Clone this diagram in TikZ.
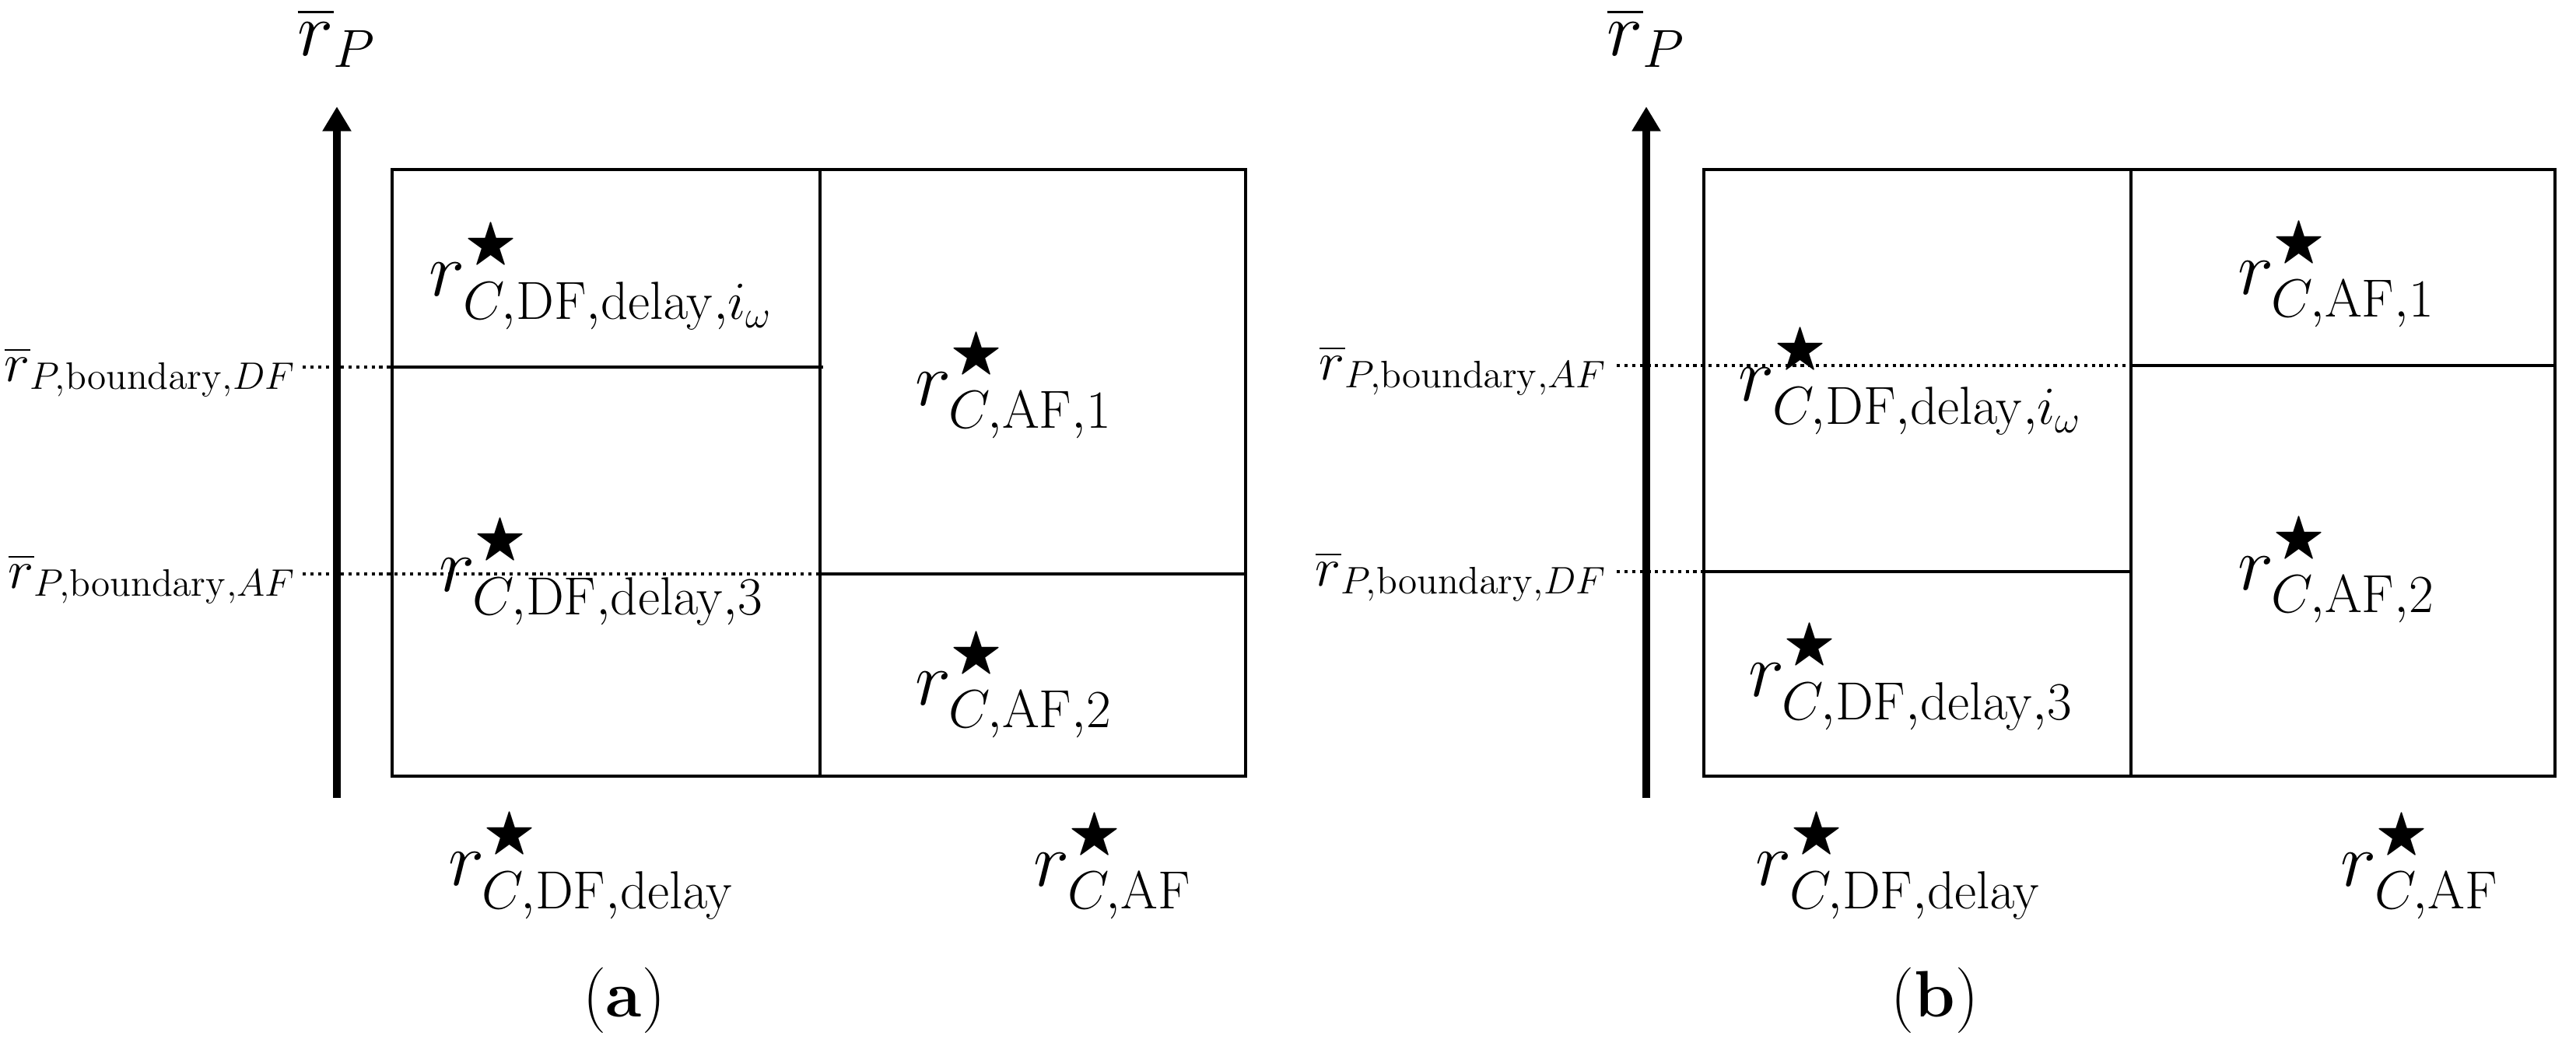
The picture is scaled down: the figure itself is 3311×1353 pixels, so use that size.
\RequirePackage{fix-cm}
\documentclass[tikz,border=0pt]{standalone}
\usepackage{amssymb}
\usetikzlibrary{arrows.meta}
\newcommand{\rs}{r^{\bigstar}}
\begin{document}
\begin{tikzpicture}[x=0.01cm,y=-0.01cm,
  boxline/.style={line width=1.4pt},
  axisline/.style={line width=3.1pt,-{Triangle[width=10pt,length=9pt]}},
  dotline/.style={line width=1.1pt,dash pattern=on 1.2pt off 1.6pt},
  big/.style={font=\fontsize{28}{34}\selectfont,inner sep=0pt},
  bnd/.style={font=\fontsize{20}{24}\selectfont,inner sep=0pt,anchor=east},
  captext/.style={font=\fontsize{24}{28}\selectfont,inner sep=0pt}]
\useasboundingbox (0,0) rectangle (3311,1353);
% ---------- (a) ----------
\coordinate (a0) at (433,1026);
\coordinate (a1) at (433,137);
\draw[axisline] (a0) -- (a1);
\node[big] (arp) at (433,48) {$\overline{r}_{P}$};
\draw[boxline] (504,218) rectangle (1601,998);
\draw[boxline] (1054,218) -- (1054,998);
\draw[boxline] (504,472) -- (1058,472);
\draw[boxline] (1054,738) -- (1601,738);
\coordinate (adf) at (389,472);
\coordinate (aaf) at (389,738);
\draw[dotline] (adf) -- (504,472);
\draw[dotline] (aaf) -- (1054,738);
\node[bnd] (lDFa) at (381,478) {$\overline{r}_{P,\mathrm{boundary},DF}$};
\node[bnd] (lAFa) at (381,744) {$\overline{r}_{P,\mathrm{boundary},AF}$};
\node[big] (a_iw) at (773,355) {$\rs_{C,\mathrm{DF},\mathrm{delay},i_\omega}$};
\node[big] (a_d3) at (773,735) {$\rs_{C,\mathrm{DF},\mathrm{delay},3}$};
\node[big] (a_af1) at (1303,495) {$\rs_{C,\mathrm{AF},1}$};
\node[big] (a_af2) at (1303,880) {$\rs_{C,\mathrm{AF},2}$};
\node[big] (a_x1) at (760,1113) {$\rs_{C,\mathrm{DF},\mathrm{delay}}$};
\node[big] (a_x2) at (1430,1113) {$\rs_{C,\mathrm{AF}}$};
\node[captext] (capa) at (802,1286) {(\textbf{a})};
% ---------- (b) ----------
\coordinate (b0) at (2116,1026);
\coordinate (b1) at (2116,137);
\draw[axisline] (b0) -- (b1);
\node[big] (brp) at (2116,48) {$\overline{r}_{P}$};
\draw[boxline] (2190,218) rectangle (3284,998);
\draw[boxline] (2739,218) -- (2739,998);
\draw[boxline] (2739,470) -- (3284,470);
\draw[boxline] (2190,735) -- (2739,735);
\coordinate (baf) at (2078,470);
\coordinate (bdf) at (2078,735);
\draw[dotline] (baf) -- (2739,470);
\draw[dotline] (bdf) -- (2190,735);
\node[bnd] (lAFb) at (2066,476) {$\overline{r}_{P,\mathrm{boundary},AF}$};
\node[bnd] (lDFb) at (2066,741) {$\overline{r}_{P,\mathrm{boundary},DF}$};
\node[big] (b_iw) at (2456,490) {$\rs_{C,\mathrm{DF},\mathrm{delay},i_\omega}$};
\node[big] (b_d3) at (2456,870) {$\rs_{C,\mathrm{DF},\mathrm{delay},3}$};
\node[big] (b_af1) at (3003,352) {$\rs_{C,\mathrm{AF},1}$};
\node[big] (b_af2) at (3003,732) {$\rs_{C,\mathrm{AF},2}$};
\node[big] (b_x1) at (2440,1113) {$\rs_{C,\mathrm{DF},\mathrm{delay}}$};
\node[big] (b_x2) at (3110,1113) {$\rs_{C,\mathrm{AF}}$};
\node[captext] (capb) at (2487,1286) {(\textbf{b})};
\end{tikzpicture}
\end{document}
